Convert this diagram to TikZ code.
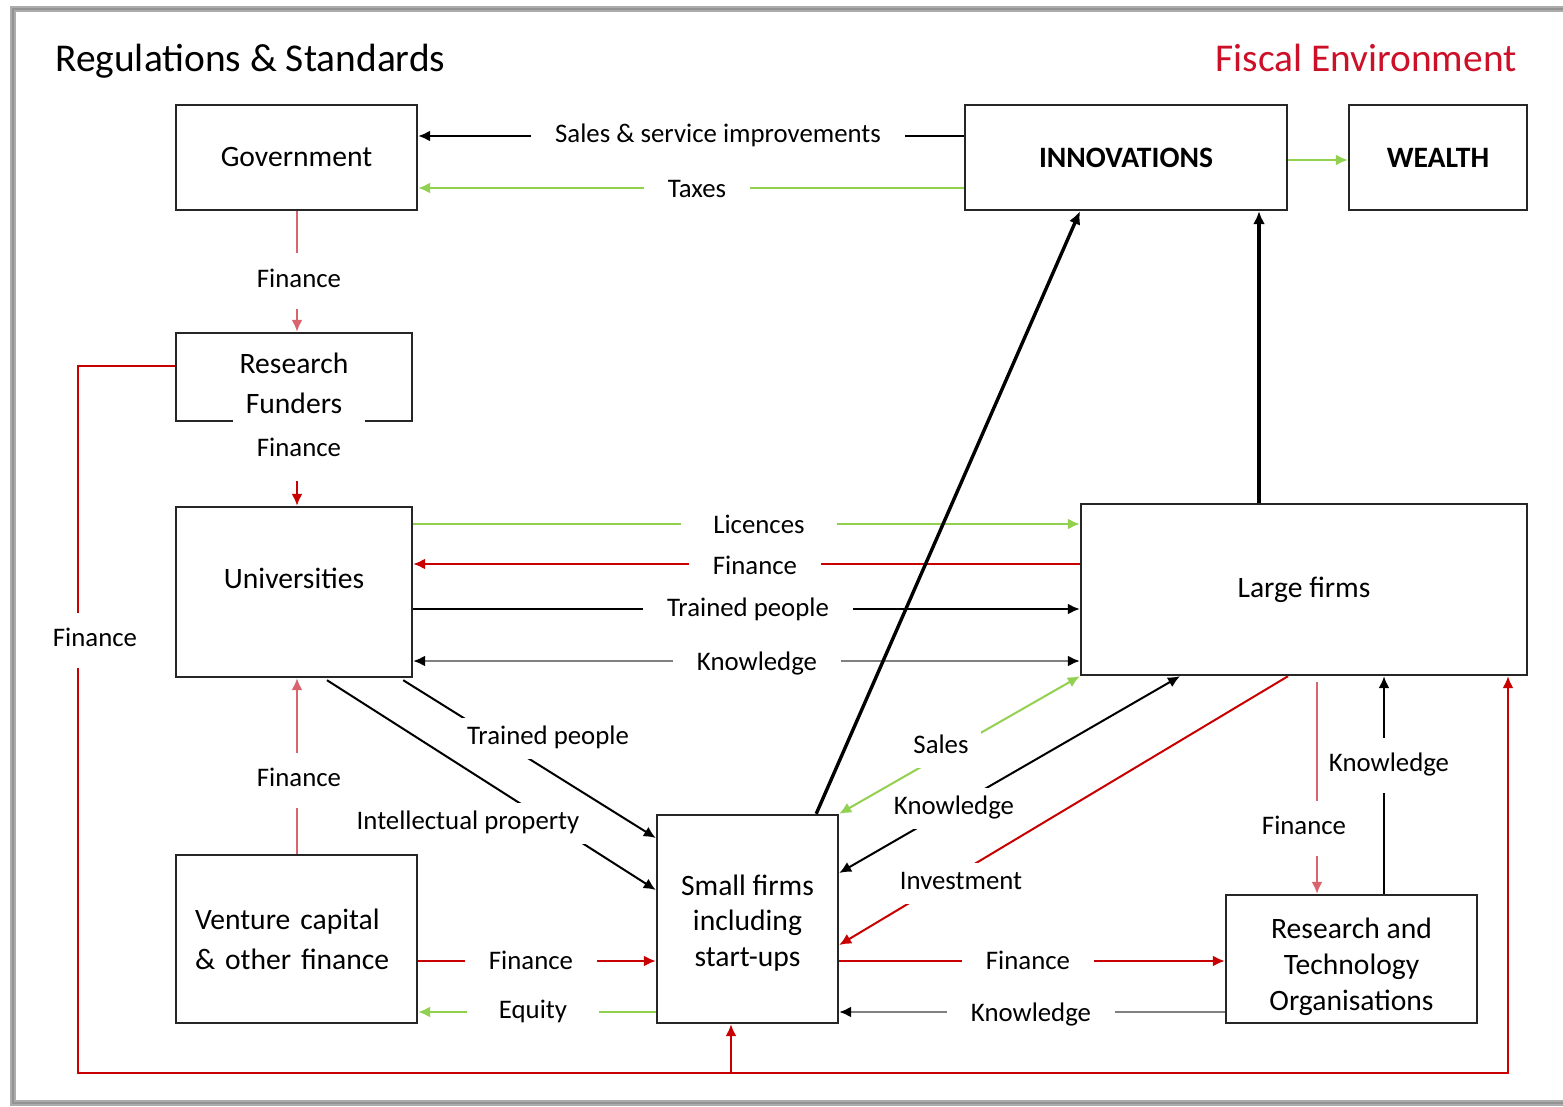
\documentclass[tikz,border=0pt]{standalone}
\usepackage{fontspec}
\setmainfont{Carlito}
\usetikzlibrary{arrows.meta,calc}
\definecolor{myred}{RGB}{200,0,0}
\definecolor{pinkred}{RGB}{218,100,110}
\definecolor{mygreen}{RGB}{146,208,80}
\definecolor{mygray}{RGB}{128,128,128}
\definecolor{fiscal}{RGB}{204,16,40}
\begin{document}
\begin{tikzpicture}[x=0.5pt,y=-0.5pt,
  box/.style={draw=black!85, line width=1.2pt, inner sep=0pt, align=center,
    font=\fontsize{14.8}{18}\selectfont},
  boxtext/.style={align=center, inner sep=0pt, font=\fontsize{14.8}{18}\selectfont},
  lbl/.style={fill=white, inner xsep=12pt, inner ysep=7.5pt, text height=9.5pt, text depth=3pt,
    font=\fontsize{13.4}{16}\selectfont},
  dlbl/.style={lbl, inner xsep=6pt, inner ysep=4pt},
  arr/.style={line width=1pt, -{Latex[length=6pt,width=5.5pt]}},
  darr/.style={line width=1pt, {Latex[length=6pt,width=5.5pt]}-{Latex[length=6pt,width=5.5pt]}},
  garr/.style={line width=1pt, mygray, -{Latex[length=6pt,width=5.5pt,color=black]}},
  gdarr/.style={line width=1pt, mygray, {Latex[length=6pt,width=5.5pt,color=black]}-{Latex[length=6pt,width=5.5pt,color=black]}},
  thickarr/.style={line width=1.7pt, -{Latex[length=6.5pt,width=6pt]}}
]
\useasboundingbox (0,0) rectangle (1563,1107);
\fill[white] (0,0) rectangle (1563,1107);
% frame
\draw[gray!65, line width=3pt] (1570,9) -- (13,9) -- (13,1103) -- (1570,1103);
\draw[gray!85, line width=0.8pt] (1570,9) -- (13,9) -- (13,1103) -- (1570,1103);

% titles
\node[anchor=base west, inner sep=0pt, font=\fontsize{19.7}{23}\selectfont] (t1) at (55,72) {Regulations \& Standards};
\node[anchor=base east, inner sep=0pt, text=fiscal, font=\fontsize{19.7}{23}\selectfont] (t2) at (1517,72) {Fiscal Environment};

% boxes
\node[box, minimum width=120.5pt, minimum height=52.5pt] (gov) at (296.5,157.5) {Government};
\node[box, minimum width=161pt, minimum height=52.5pt, font=\fontsize{14.8}{18}\selectfont\bfseries] (inn) at (1126,157.5) {INNOVATIONS};
\node[box, minimum width=89pt, minimum height=52.5pt, font=\fontsize{14.8}{18}\selectfont\bfseries] (wealth) at (1438,157.5) {WEALTH};
\node[box, minimum width=118pt, minimum height=44pt,
  label={[boxtext, font=\fontsize{14.8}{20}\selectfont, yshift=-3pt]center:Research\\Funders}] (rf) at (294,377) {};
\node[box, minimum width=118pt, minimum height=85pt,
  label={[boxtext, yshift=7pt]center:Universities}] (univ) at (294,592) {};
\node[box, minimum width=223pt, minimum height=85.5pt] (large) at (1304,589.5) {Large firms};
\node[box, minimum width=90.5pt, minimum height=104pt,
  label={[boxtext, font=\fontsize{14.8}{17.75}\selectfont, yshift=-2pt]center:Small firms\\including\\start-ups}] (small) at (747.5,919) {};
\node[box, minimum width=120.5pt, minimum height=84pt, font=\fontsize{14.8}{20}\selectfont,
  align=left, text width=101.5pt, inner xsep=9.5pt] (vc) at (296.5,939) {Venture capital\\\& other finance};
\node[box, minimum width=125.5pt, minimum height=64pt,
  label={[boxtext, yshift=-4pt]center:Research and\\Technology\\Organisations}] (rto) at (1351.5,959) {};

% connectors: top
\draw[arr] (inn.west |- 0,136) -- (gov.east |- 0,136);
\node[lbl] (l1) at (718,136) {Sales \& service improvements};
\draw[arr, mygreen] (inn.west |- 0,188) -- (gov.east |- 0,188);
\node[lbl] (l2) at (697,191) {Taxes};
\draw[arr, mygreen] (inn.east |- 0,160) -- (wealth.west |- 0,160);

% vertical left column
\draw[arr, pinkred] (gov.south -| 297,0) -- (rf.north -| 297,0);
\node[lbl] (l3) at (299,281) {Finance};
\draw[arr, myred] (rf.south -| 297,0) -- (univ.north -| 297,0);
\node[lbl, minimum height=31pt] (l4) at (299,450) {Finance};
\draw[arr, pinkred] (vc.north -| 297,0) -- (univ.south -| 297,0);
\node[lbl] (l12) at (299,780) {Finance};

% universities <-> large firms
\draw[arr, mygreen] (univ.east |- 0,524) -- (large.west |- 0,524);
\node[lbl, inner xsep=16pt] (l5) at (759,527) {Licences};
\draw[arr, myred] (large.west |- 0,564) -- (univ.east |- 0,564);
\node[lbl] (l6) at (755,568) {Finance};
\draw[arr] (univ.east |- 0,609) -- (large.west |- 0,609);
\node[lbl] (l7) at (748,610) {Trained people};
\draw[gdarr] (univ.east |- 0,661) -- (large.west |- 0,661);
\node[lbl] (l8) at (757,664) {Knowledge};

% to innovations
\draw[thickarr] ($(small.north east)+(-23,0)$) -- (inn.south -| 1080,0);
\draw[thickarr] (large.north -| 1259,0) -- (inn.south -| 1259,0);

% universities -> small firms
\draw[arr] ($(univ.south)+(33,2)$) -- (small.west |- 0,890);
\node[dlbl] (l11) at (468,823) {Intellectual property};
\draw[arr] ($(univ.south east)+(-10,2)$) -- (small.west |- 0,838);
\node[dlbl] (l10) at (548,738) {Trained people};

% venture capital <-> small firms
\draw[arr, myred] (vc.east |- 0,961) -- (small.west |- 0,961);
\node[lbl] (l18) at (531,963) {Finance};
\draw[arr, mygreen] (small.west |- 0,1012) -- (vc.east |- 0,1012);
\node[lbl, inner xsep=16pt] (l19) at (533,1012) {Equity};

% small firms <-> large firms
\draw[arr, myred] (large.south -| 1288,0) -- (small.east |- 0,945);
\node[dlbl] (l15) at (961,883) {Investment};
\draw[darr] (small.east |- 0,873) -- (large.south -| 1180,0);
\node[dlbl] (l14) at (954,808) {Knowledge};
\draw[darr, mygreen] (small.north east) -- (large.south west);
\node[dlbl] (l13) at (941,747) {Sales};

% large firms <-> RTO
\draw[arr] (rto.north -| 1384,0) -- (large.south -| 1384,0);
\node[lbl, inner xsep=3pt] (l16) at (1389,765) {Knowledge};
\draw[arr, pinkred] ($(large.south -| 1317,0)+(0,6)$) -- (rto.north -| 1317,0);
\node[lbl] (l17) at (1304,828) {Finance};

% small firms <-> RTO
\draw[arr, myred] (small.east |- 0,961) -- (rto.west |- 0,961);
\node[lbl] (l20) at (1028,963) {Finance};
\draw[garr] (rto.west |- 0,1012) -- (small.east |- 0,1012);
\node[lbl] (l21) at (1031,1015) {Knowledge};

% research funders finance loop
\coordinate (loopL) at (78,1073);
\coordinate (loopR) at (1508,1073);
\coordinate (branch) at (731,1073);
\draw[arr, myred] (rf.west |- 0,366) -| (loopL) -- (loopR) -- (large.south -| loopR);
\draw[arr, myred] (branch) -- (small.south -| branch);
\node[lbl] (l9) at (95,640) {Finance};
\end{tikzpicture}
\end{document}
